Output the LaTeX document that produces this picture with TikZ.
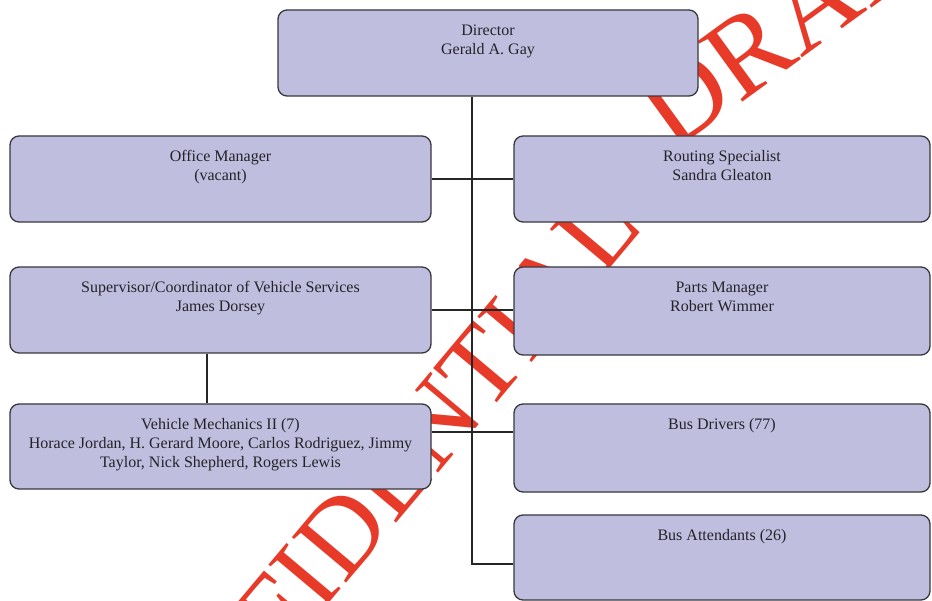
\documentclass[tikz,border=0pt]{standalone}
\usepackage{fontspec}
\setmainfont{Liberation Serif}
\definecolor{boxfill}{RGB}{192,190,223}
\definecolor{boxline}{RGB}{55,55,60}
\definecolor{txtcol}{RGB}{35,35,40}
\definecolor{wmred}{RGB}{232,58,40}
\tikzset{
  orgbox/.style={draw=boxline, fill=boxfill, rounded corners=9pt, line width=1.3pt, inner sep=0pt},
  boxtext/.style={anchor=base, inner sep=0pt, text=txtcol, font=\fontsize{16}{19}\selectfont},
  conn/.style={draw=black!85, line width=1.1pt},
  wmark/.style={text=wmred, inner sep=0pt}
}
\newcommand{\bt}[1]{\parbox[t]{410pt}{\centering #1}}
\begin{document}
\begin{tikzpicture}[x=1pt,y=-1pt]
\useasboundingbox (0,0) rectangle (932,601);
\fill[white] (0,0) rectangle (932,601);
% watermark
\begin{scope}
\clip (0,0) rectangle (932,601);
\node[wmark, font=\fontsize{108}{108}\selectfont, rotate=50, anchor=base east] (wm1) at (645,227) {CONFIDENTIAL};
\node[wmark, font=\fontsize{115}{115}\selectfont, rotate=36, anchor=base west] (wm2) at (672,153) {DRAFT};
\end{scope}
% boxes
\node[orgbox, minimum width=420pt, minimum height=86pt] (dir) at (488,53) {};
\node[orgbox, minimum width=421pt, minimum height=86pt] (off) at (220.5,179) {};
\node[orgbox, minimum width=416pt, minimum height=86pt] (rout) at (722,179) {};
\node[orgbox, minimum width=421pt, minimum height=86pt] (sup) at (220.5,310) {};
\node[orgbox, minimum width=416pt, minimum height=88pt] (parts) at (722,311) {};
\node[orgbox, minimum width=421pt, minimum height=85pt] (mech) at (220.5,446.5) {};
\node[orgbox, minimum width=416pt, minimum height=88pt] (drv) at (722,448) {};
\node[orgbox, minimum width=416pt, minimum height=85pt] (att) at (722,557.5) {};
% texts
\node[boxtext] (dirt) at ([yshift=-26.5pt]dir.north) {\bt{Director\\Gerald A. Gay}};
\node[boxtext] (offt) at ([yshift=-26.5pt]off.north) {\bt{Office Manager\\(vacant)}};
\node[boxtext] (routt) at ([yshift=-26.5pt]rout.north) {\bt{Routing Specialist\\Sandra Gleaton}};
\node[boxtext] (supt) at ([yshift=-26.5pt]sup.north) {\bt{Supervisor/Coordinator of Vehicle Services\\James Dorsey}};
\node[boxtext] (partst) at ([yshift=-26.5pt]parts.north) {\bt{Parts Manager\\Robert Wimmer}};
\node[boxtext] (mecht) at ([yshift=-26.5pt]mech.north) {\bt{Vehicle Mechanics II (7)\\Horace Jordan, H. Gerard Moore, Carlos Rodriguez, Jimmy\\Taylor, Nick Shepherd, Rogers Lewis}};
\node[boxtext] (drvt) at ([yshift=-26.5pt]drv.north) {\bt{Bus Drivers (77)}};
\node[boxtext] (attt) at ([yshift=-26.5pt]att.north) {\bt{Bus Attendants (26)}};
% connectors
\coordinate (dirfoot) at ([xshift=-16pt]dir.south);
\coordinate (trunkend) at ([yshift=-6.5pt]dirfoot |- att.center);
\draw[conn] (dirfoot) -- (trunkend) -- (trunkend -| att.west);
\draw[conn] (off.east) -- (rout.west);
\draw[conn] (sup.east) -- (sup.east -| parts.west);
\coordinate (mechlink) at ([yshift=14.5pt]mech.east);
\draw[conn] (mechlink) -- (mechlink -| drv.west);
\coordinate (supfoot) at ([xshift=-13.5pt]sup.south);
\draw[conn] (supfoot) -- (supfoot |- mech.north);
\end{tikzpicture}
\end{document}
